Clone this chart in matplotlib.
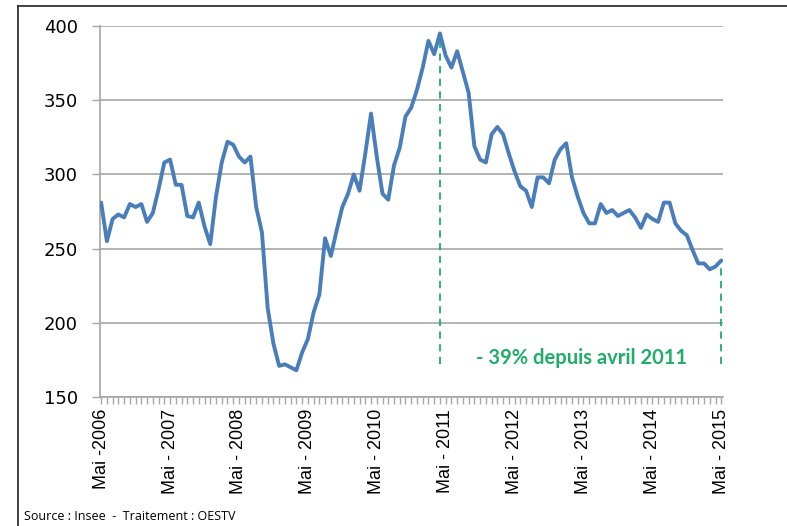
import numpy as np
import matplotlib
matplotlib.use("Agg")
import matplotlib.pyplot as plt
from matplotlib.lines import Line2D

# valeurs mensuelles, mai 2006 -> mai 2015
valeurs = [281, 255, 270, 273, 271, 280, 278, 280, 268, 274,
           290, 308, 310, 293, 293, 272, 271, 281, 265, 253,
           285, 308, 322, 320, 312, 308, 312, 278, 261, 210,
           186, 171, 172, 170, 168, 180, 189, 207, 219, 257,
           245, 262, 278, 287, 300, 289, 314, 341, 312, 287,
           283, 306, 318, 339, 345, 357, 372, 390, 381, 395,
           380, 372, 383, 369, 355, 319, 310, 308, 327, 332,
           327, 314, 302, 292, 289, 278, 298, 298, 294, 310,
           317, 321, 298, 285, 274, 267, 267, 280, 274, 276,
           272, 274, 276, 271, 264, 273, 270, 268, 281, 281,
           267, 262, 259, 249, 240, 240, 236, 238, 242]
annees = ["Mai -2006", "Mai - 2007", "Mai - 2008", "Mai - 2009", "Mai - 2010",
          "Mai - 2011", "Mai - 2012", "Mai - 2013", "Mai - 2014", "Mai - 2015"]
mois_avril_2011 = 59
texte_baisse = "- 39% depuis avril 2011"

bleu = "#4a7ebb"
vert = "#1fae68"
gris = "#a6a6a6"

x = np.arange(len(valeurs))

fig = plt.figure(figsize=(7.87, 5.26), dpi=100)
ax = fig.add_axes([100 / 787, 1 - 397 / 526, 623 / 787, 371 / 526])

ax.plot(x, valeurs, color=bleu, linewidth=2.8, solid_joinstyle="round",
        solid_capstyle="round", zorder=3)

# lignes vertes pointillees
bas = 172
ax.plot([mois_avril_2011, mois_avril_2011], [bas, valeurs[mois_avril_2011] - 4],
        color=vert, linestyle=(0, (4, 3)), linewidth=1.3, zorder=2)
ax.plot([x[-1], x[-1]], [bas, valeurs[-1] - 2],
        color=vert, linestyle=(0, (4, 3)), linewidth=1.3, zorder=2)
ax.text(83.6, 176.5, texte_baisse, color=vert, fontsize=14.5, fontweight="bold",
        family="Lato", ha="center", va="center")

ax.set_ylim(150, 400)
ax.set_xlim(-0.2, 108.3)
ax.set_yticks([150, 200, 250, 300, 350, 400])
ax.yaxis.grid(True, color=gris, linewidth=1.2)
ax.set_axisbelow(True)

ax.set_xticks(x[::12])
ax.set_xticklabels(annees, rotation=90, family="Liberation Sans", fontsize=13)
ax.set_xticks(x, minor=True)
ax.tick_params(axis="x", which="both", direction="out", length=5, color=gris, width=1)
ax.tick_params(axis="y", direction="out", length=6, color=gris, width=1, pad=10, labelsize=13)

for s in ["top", "right"]:
    ax.spines[s].set_visible(False)
for s in ["left", "bottom"]:
    ax.spines[s].set_color(gris)
    ax.spines[s].set_linewidth(1.2)

# cadre exterieur
fig.add_artist(Line2D([18 / 787, 18 / 787], [0, 1 - 6 / 526], color="#333333", linewidth=1.3))
fig.add_artist(Line2D([18 / 787, 1], [1 - 6 / 526, 1 - 6 / 526], color="#333333", linewidth=1.3))

fig.text(24 / 787, 1 - 516 / 526, "Source : Insee  -  Traitement : OESTV",
         family="Open Sans", fontsize=9, va="center", ha="left")

fig.savefig("out.png", dpi=100)
